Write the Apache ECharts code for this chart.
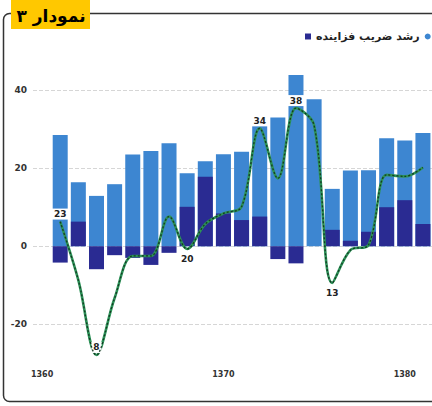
<!DOCTYPE html>
<html lang="fa">
<head>
<meta charset="utf-8">
<script src="https://cdn.jsdelivr.net/npm/echarts@6/dist/echarts.min.js"></script>
<style>
  html, body { margin: 0; padding: 0; background: #fff; }
  #chart { width: 432px; height: 406px; }
</style>
</head>
<body>
<div id="chart"></div>
<script>
// ---- data ----
var years = ['1360','1361','1362','1363','1364','1365','1366','1367','1368','1369','1370',
             '1371','1372','1373','1374','1375','1376','1377','1378','1379','1380','1381'];
var lightValues = [null, 28.5, 16.4, 12.9, 15.9, 23.5, 24.4, 26.4, 18.7, 21.8, 23.6,
                   24.2, 31, 33, 43.9, 37.7, 14.7, 19.4, 19.5, 27.7, 27.1, 29];
var darkValues  = [null, -4.2, 6.3, -5.9, -2.3, -3.0, -4.8, -1.7, 10.1, 17.8, 8.4,
                   6.7, 7.6, -3.3, -4.4, 0, 4.2, 1.4, 3.7, 10, 11.8, 5.7];
var lineValues  = [null, 6.3, -8.7, -27.9, -13.3, -2.5, -2.5, 7.6, -0.7, 5.7, 8.4,
                   10.1, 30.2, 17.4, 35.4, 31, -9.4, -1, 0.3, 18.3, 17.9, 20.2];
var lineLabels  = ['', '23', '', '8', '', '', '', '', '20', '', '',
                   '', '34', '', '38', '', '13', '', '', '', '', ''];
var yTickLabels = ['-20', '0', '20', '40'];

var darkName  = 'رشد ضریب فزاینده';
var lightName = 'رشد نقدینگی';   // legend text is outside the picture

var LIGHT = '#3d86d1';
var DARK  = '#2a2b92';
var GREEN = '#2c9358';

// labels that sit under the line point
var labelBelow = { 8: true, 16: true };

var chart = echarts.init(document.getElementById('chart'), null, { renderer: 'svg' });

var lineData = lineValues.map(function(v, i) {
  var item = { value: v };
  if (lineLabels[i]) {
    item.label = {
      show: true,
      formatter: lineLabels[i],
      position: labelBelow[i] ? 'bottom' : 'top',
      distance: labelBelow[i] ? 5 : 2,
      fontSize: 9,
      fontWeight: 'bold',
      color: '#222',
      backgroundColor: '#fff',
      padding: [1, 2]
    };
  }
  return item;
});

chart.setOption({
  animation: false,
  textStyle: { fontFamily: '"DejaVu Sans", sans-serif' },
  graphic: [
    {
      type: 'rect', z: 100,
      shape: { x: 3.5, y: 13.5, width: 450, height: 388, r: 6 },
      style: { fill: 'none', stroke: '#333', lineWidth: 1.5 }
    },
    {
      type: 'rect', z: 101,
      shape: { x: 11, y: 0, width: 79, height: 29 },
      style: { fill: '#ffc800' }
    },
    {
      type: 'text', z: 102, x: 51, y: 16,
      style: {
        text: 'نمودار ۳',
        font: 'bold 17px "DejaVu Sans"',
        fill: '#000',
        align: 'center',
        verticalAlign: 'middle'
      }
    }
  ],
  legend: {
    data: [
      { name: darkName, icon: 'rect' },
      { name: lightName, icon: 'circle' }
    ],
    formatter: function(name) { return name === lightName ? '' : name; },
    left: 300,
    top: 26,
    width: 600,
    itemWidth: 6,
    itemHeight: 6,
    itemGap: 5,
    textStyle: { fontSize: 11, fontWeight: 'bold', color: '#222', fontFamily: '"DejaVu Sans"' }
  },
  grid: { left: 33, right: -4.3, top: 12.2, bottom: 3.8, containLabel: false },
  xAxis: {
    type: 'category',
    data: years,
    offset: -34,
    axisLine: { show: false },
    axisTick: { show: false },
    axisLabel: {
      interval: 9,
      margin: 2,
      fontSize: 8,
      fontWeight: 'bold',
      color: '#333'
    },
    splitLine: { show: false }
  },
  yAxis: {
    type: 'value',
    min: -40,
    max: 60,
    interval: 20,
    axisLine: { show: false },
    axisTick: { show: false },
    axisLabel: {
      margin: 6,
      fontSize: 9,
      fontWeight: 'bold',
      color: '#333',
      formatter: function(v) {
        return yTickLabels.indexOf(String(v)) >= 0 ? String(v) : '';
      }
    },
    splitLine: {
      show: true,
      showMinLine: false,
      showMaxLine: false,
      lineStyle: { color: '#d6d6d6', type: 'dashed', width: 1 }
    }
  },
  series: [
    {
      name: lightName,
      type: 'bar',
      data: lightValues,
      barWidth: 15,
      itemStyle: { color: LIGHT },
      z: 2
    },
    {
      name: darkName,
      type: 'bar',
      data: darkValues,
      barWidth: 15,
      barGap: '-100%',
      itemStyle: { color: DARK },
      z: 3
    },
    {
      name: 'line-base',
      type: 'line',
      data: lineData,
      smooth: 0.35,
      symbol: 'circle',
      symbolSize: 0.1,
      showSymbol: true,
      showAllSymbol: true,
      itemStyle: { color: GREEN },
      lineStyle: { color: GREEN, width: 2.6 },
      z: 4
    },
    {
      name: 'line-dash',
      type: 'line',
      data: lineValues,
      smooth: 0.35,
      symbol: 'none',
      silent: true,
      lineStyle: { color: '#163a24', width: 1.3, type: [2, 2] },
      z: 5
    }
  ]
});
</script>
</body>
</html>
